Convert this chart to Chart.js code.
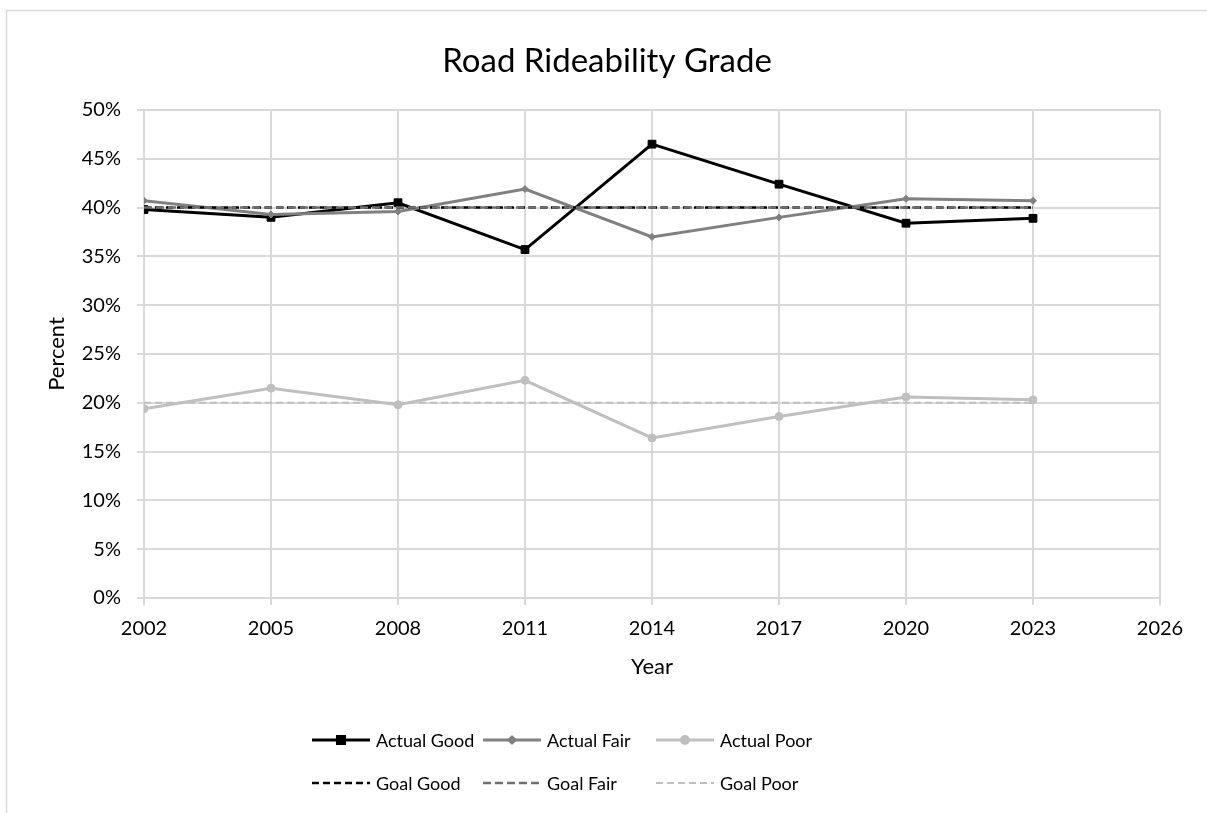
<!DOCTYPE html>
<html>
<head>
<meta charset="utf-8">
<title>Road Rideability Grade</title>
<script src="https://cdn.jsdelivr.net/npm/chart.js@4.4.3/dist/chart.umd.min.js"></script>
<style>
  html, body { margin: 0; padding: 0; background: #fff; overflow: hidden; }
  #wrap { position: relative; width: 1207px; height: 813px; }
</style>
</head>
<body>
<div id="wrap"><canvas id="chart" width="1207" height="813"></canvas></div>
<script>
// ---------- data ----------
const years = [2002, 2005, 2008, 2011, 2014, 2017, 2020, 2023];
const actualGood = [39.8, 39.0, 40.5, 35.7, 46.5, 42.4, 38.4, 38.9];
const actualFair = [40.7, 39.3, 39.6, 41.9, 37.0, 39.0, 40.9, 40.7];
const actualPoor = [19.4, 21.5, 19.8, 22.3, 16.4, 18.6, 20.6, 20.3];
const goalGood = [40, 40, 40, 40, 40, 40, 40, 40];
const goalFair = [40, 40, 40, 40, 40, 40, 40, 40];
const goalPoor = [20, 20, 20, 20, 20, 20, 20, 20];
const chartTitle = "Road Rideability Grade";

const FONT = "Lato, 'Noto Sans', sans-serif";
const GRID = "#d9d9d9";

function pts(vals) {
  return years.map((y, i) => ({ x: y, y: vals[i] }));
}

// ---------- plugins ----------
// outer chart frame (Excel-style), cropped at right and bottom + title centred on the frame
const framePlugin = {
  id: "frame",
  beforeDraw(chart) {
    const ctx = chart.ctx;
    ctx.save();
    ctx.strokeStyle = GRID;
    ctx.lineWidth = 1.5;
    ctx.strokeRect(6.5, 10.5, 1400, 1000);
    ctx.fillStyle = "#000";
    ctx.font = "33px " + FONT;
    ctx.textAlign = "center";
    ctx.textBaseline = "middle";
    ctx.fillText(chartTitle, 607, 61);
    ctx.restore();
  },
};

// legend drawn as line samples, 3 per row
const legendPlugin = {
  id: "lineLegend",
  afterDraw(chart) {
    const ctx = chart.ctx;
    const cols = [312, 483, 656];
    const rows = [740, 783];
    const sample = 58;
    ctx.save();
    ctx.font = "18px " + FONT;
    ctx.textBaseline = "middle";
    ctx.textAlign = "left";
    chart.data.datasets.forEach((ds, i) => {
      const x = cols[i % 3];
      const y = rows[Math.floor(i / 3)];
      ctx.strokeStyle = ds.borderColor;
      ctx.lineWidth = ds.borderWidth;
      ctx.setLineDash(ds.borderDash || []);
      ctx.beginPath();
      ctx.moveTo(x, y);
      ctx.lineTo(x + sample, y);
      ctx.stroke();
      ctx.setLineDash([]);
      if (ds.pointRadius > 0) {
        Chart.helpers.drawPoint(ctx, {
          pointStyle: ds.pointStyle,
          radius: ds.pointRadius - 0.5,
          borderWidth: 1,
        }, x + sample / 2, y);
        ctx.fillStyle = ds.borderColor;
        ctx.fill();
      }
      ctx.fillStyle = "#000";
      ctx.fillText(ds.label, x + sample + 6, y + 1);
    });
    ctx.restore();
  },
};

function actual(label, vals, color, style, r, order) {
  return {
    label, data: pts(vals), borderColor: color, backgroundColor: color,
    borderWidth: 3, pointStyle: style, pointRadius: r, pointHoverRadius: r,
    pointBorderWidth: 1, tension: 0, order,
  };
}
function goal(label, vals, color, dash, w, order) {
  return {
    label, data: pts(vals), borderColor: color, backgroundColor: color,
    borderWidth: w, borderDash: dash, pointRadius: 0, tension: 0, order,
  };
}

new Chart(document.getElementById("chart"), {
  type: "line",
  data: {
    datasets: [
      actual("Actual Good", actualGood, "#000000", "rect", 5.5, 6),
      actual("Actual Fair", actualFair, "#808080", "rectRot", 3.5, 5),
      actual("Actual Poor", actualPoor, "#bfbfbf", "circle", 4, 4),
      goal("Goal Good", goalGood, "#000000", [7, 4], 2.5, 3),
      goal("Goal Fair", goalFair, "#6f6f6f", [8, 4], 2.5, 2),
      goal("Goal Poor", goalPoor, "#bfbfbf", [7, 4], 2, 1),
    ],
  },
  options: {
    responsive: false,
    animation: false,
    layout: { padding: { left: 0, right: 47, top: 110, bottom: 125 } },
    plugins: {
      legend: { display: false },
      tooltip: { enabled: false },
      title: { display: false },
    },
    scales: {
      x: {
        type: "linear",
        min: 2002,
        max: 2026,
        afterFit: (s) => { s.height = 90; },
        afterBuildTicks: (s) => {
          s.ticks = [];
          for (let v = 2002; v <= 2026; v += 3) s.ticks.push({ value: v });
        },
        ticks: {
          color: "#000",
          padding: 12,
          maxRotation: 0,
          font: { family: FONT, size: 20 },
          callback: (v) => String(v),
        },
        grid: { color: GRID, lineWidth: 2, tickLength: 7 },
        border: { color: GRID, width: 2 },
        title: {
          display: true,
          text: "Year",
          color: "#000",
          font: { family: FONT, size: 22 },
          padding: { top: 0, bottom: 8 },
        },
      },
      y: {
        min: 0,
        max: 50,
        afterFit: (s) => { s.width = 144; },
        ticks: {
          stepSize: 5,
          color: "#000",
          padding: 16,
          font: { family: FONT, size: 20 },
          callback: (v) => v + "%",
        },
        grid: { color: GRID, lineWidth: 2, tickLength: 7 },
        border: { color: GRID, width: 2 },
        title: {
          display: true,
          text: "Percent",
          color: "#000",
          font: { family: FONT, size: 22 },
          padding: { top: 44, bottom: 0 },
        },
      },
    },
  },
  plugins: [framePlugin, legendPlugin],
});
</script>
</body>
</html>
